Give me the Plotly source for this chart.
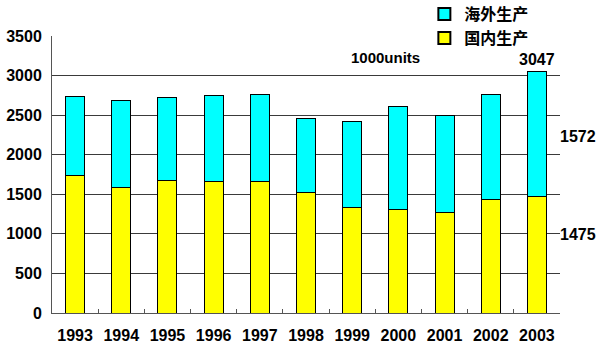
import plotly.graph_objects as go

years = ["1993", "1994", "1995", "1996", "1997", "1998", "1999", "2000", "2001", "2002", "2003"]
domestic = [1735, 1587, 1676, 1663, 1663, 1524, 1334, 1313, 1271, 1435, 1475]
totals = [2735, 2684, 2726, 2747, 2756, 2461, 2418, 2613, 2494, 2756, 3047]
overseas = [t - d for t, d in zip(totals, domestic)]

label_domestic = "国内生产"
label_overseas = "海外生产"
unit_text = "1000units"

font_num = "Liberation Sans"
font_cjk = "Noto Sans CJK SC"

fig = go.Figure()
fig.add_trace(go.Bar(
    x=years, y=domestic, name=label_domestic,
    marker=dict(color="#FFFF00", line=dict(color="#000000", width=1)),
))
fig.add_trace(go.Bar(
    x=years, y=overseas, name=label_overseas,
    marker=dict(color="#00FFFF", line=dict(color="#000000", width=1)),
))

last = len(years) - 1
# category index of the last year for the total label
fig.add_annotation(x=last, y=totals[last], text="<b>%d</b>" % totals[last],
                   showarrow=False, yanchor="bottom", yshift=2,
                   font=dict(family=font_num, size=16, color="#000"))
fig.add_annotation(xref="paper", x=1.0, y=domestic[last] + overseas[last] * 0.48,
                   text="<b>%d</b>" % overseas[last], showarrow=False,
                   xanchor="left", xshift=-2,
                   font=dict(family=font_num, size=16, color="#000"))
fig.add_annotation(xref="paper", x=1.0, y=domestic[last] * 0.67,
                   text="<b>%d</b>" % domestic[last], showarrow=False,
                   xanchor="left", xshift=-2,
                   font=dict(family=font_num, size=16, color="#000"))
fig.add_annotation(xref="paper", x=0.657, y=3225, text="<b>%s</b>" % unit_text,
                   showarrow=False, font=dict(family=font_num, size=15, color="#000"))

fig.update_layout(
    width=598, height=350,
    margin=dict(l=52, r=38, t=36, b=37, autoexpand=False),
    paper_bgcolor="#FFFFFF", plot_bgcolor="#FFFFFF",
    barmode="stack", bargap=0.59,
    showlegend=True,
    legend=dict(
        traceorder="reversed",
        x=0.733, xanchor="left", y=1.14, yanchor="top",
        bgcolor="#FFFFFF", borderwidth=0,
        font=dict(family=font_cjk, size=16, color="#000", weight="bold"),
        itemsizing="constant", tracegroupgap=0,
    ),
    xaxis=dict(
        type="category", showgrid=False,
        showline=True, linecolor="#555", linewidth=1,
        ticks="inside", ticklen=4, tickcolor="#555", tickson="boundaries",
        tickfont=dict(family=font_num, size=16, color="#000", weight="bold"),
        tickangle=0, ticklabelstandoff=8,
    ),
    yaxis=dict(
        range=[0, 3500], dtick=500, tick0=0,
        showgrid=True, gridcolor="#3a3a3a", gridwidth=1,
        showline=True, linecolor="#555", linewidth=1,
        zeroline=False, ticks="",
        tickfont=dict(family=font_num, size=16, color="#000", weight="bold"),
        ticklabelstandoff=6,
    ),
)

fig.write_html("out.html")
